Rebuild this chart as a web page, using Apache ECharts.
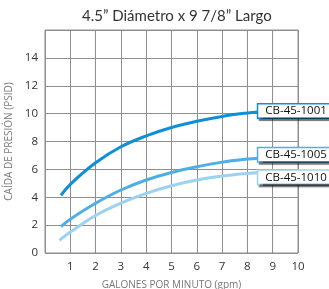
<!DOCTYPE html>
<html>
<head>
<meta charset="utf-8">
<script src="https://cdn.jsdelivr.net/npm/echarts@6/dist/echarts.min.js"></script>
<style>html,body{margin:0;padding:0;background:#fff;}#c{width:329px;height:289px;}</style>
</head>
<body>
<div id="c"></div>
<script>
const titleText = '4.5\u201d Di\u00e1metro x 9 7/8\u201d Largo';
const xName = 'GALONES POR MINUTO (gpm)';
const yName = 'CA\u00cdDA DE PRESI\u00d3N (PSID)';
const seriesNames = ['CB-45-1001', 'CB-45-1005', 'CB-45-1010'];
const flow1001 = [0.63, 1, 2, 3, 4, 5, 6, 7, 8, 8.43];
const drop1001 = [4.14, 4.93, 6.47, 7.62, 8.4, 9.0, 9.45, 9.8, 10.05, 10.12];
const flow1005 = [0.63, 1, 2, 3, 4, 5, 6, 7, 8, 8.43];
const drop1005 = [1.9, 2.43, 3.57, 4.52, 5.24, 5.78, 6.19, 6.52, 6.74, 6.8];
const flow1010 = [0.57, 1, 2, 3, 4, 5, 6, 7, 8, 8.43];
const drop1010 = [0.9, 1.5, 2.69, 3.57, 4.28, 4.83, 5.24, 5.52, 5.71, 5.76];
const xTicks = ['', '1', '2', '3', '4', '5', '6', '7', '8', '9', '10'];
const yTicks = ['0', '2', '4', '6', '8', '10', '12', '14', ''];

const colors = ['#0f8fd6', '#4cafe5', '#9cd2f1'];
const offsets = [[0, -1], [0, -3.5], [0, 4.5]];
const pairs = (xs, ys) => xs.map((x, i) => [x, ys[i]]);
const datasets = [pairs(flow1001, drop1001), pairs(flow1005, drop1005), pairs(flow1010, drop1010)];

const chart = echarts.init(document.getElementById('c'), null, {renderer: 'canvas'});
chart.setOption({
  animation: false,
  title: {
    text: titleText, left: 77, top: 4,
    textStyle: {fontFamily: 'Lato', fontSize: 15, fontWeight: 'normal', color: '#333'}
  },
  grid: {left: 45, right: 31, top: 30, bottom: 36, show: true, borderColor: '#8f8f8f', borderWidth: 1,
    containLabel: false, outerBoundsMode: 'none'},
  xAxis: {
    type: 'value', min: 0, max: 10, interval: 1,
    name: xName, nameLocation: 'middle', nameGap: 27,
    nameTextStyle: {fontFamily: 'Open Sans', fontSize: 10, color: '#777'},
    axisLine: {show: false}, axisTick: {show: false},
    axisLabel: {margin: 8, fontFamily: 'Open Sans', fontSize: 11.5, color: '#333',
      formatter: (v) => xTicks[Math.round(v)] },
    splitLine: {show: true, lineStyle: {color: '#8f8f8f', width: 1}}
  },
  yAxis: {
    type: 'value', min: 0, max: 16, interval: 2,
    name: yName, nameLocation: 'middle', nameGap: 22,
    nameTextStyle: {fontFamily: 'Open Sans', fontSize: 10, color: '#777'},
    axisLine: {show: false}, axisTick: {show: false},
    axisLabel: {margin: 7, fontFamily: 'Open Sans', fontSize: 11.5, color: '#333',
      formatter: (v) => yTicks[Math.round(v / 2)] },
    splitLine: {show: true, lineStyle: {color: '#8f8f8f', width: 1}}
  },
  series: seriesNames.map((name, i) => ({
    name, type: 'line', data: datasets[i], smooth: 0.4, showSymbol: false,
    lineStyle: {color: colors[i], width: 3},
    itemStyle: {color: colors[i]},
    endLabel: {
      show: true, formatter: name, distance: 0, offset: offsets[i],
      fontFamily: 'Open Sans', fontSize: 11.5, color: '#111',
      backgroundColor: '#fff', borderColor: colors[i], borderWidth: 1.5,
      padding: [1, 5, 0, 7],
      shadowColor: 'rgba(0,0,0,0.55)', shadowOffsetX: 2, shadowOffsetY: 2, shadowBlur: 1
    }
  }))
});
</script>
</body>
</html>
